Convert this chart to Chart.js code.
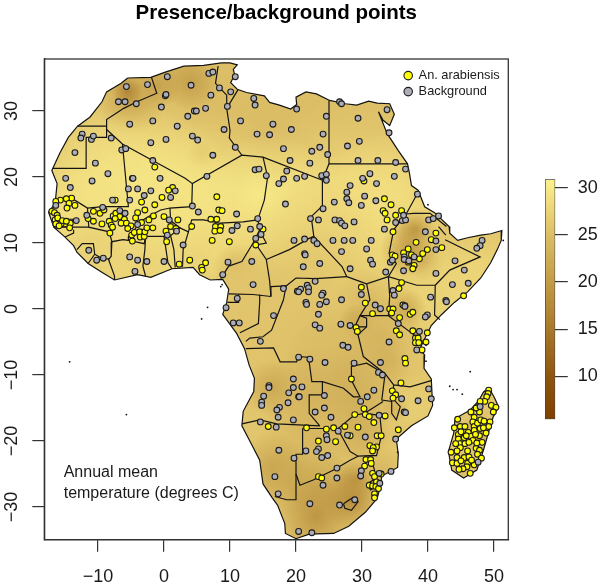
<!DOCTYPE html>
<html><head><meta charset="utf-8">
<script src="https://cdn.jsdelivr.net/npm/chart.js@4"></script>
<style>html,body{margin:0;padding:0;background:#fff}#m{position:absolute;left:0;top:0}#c{position:absolute;left:530px;top:170px}</style>
</head><body>
<canvas id="m" width="600" height="586"></canvas>
<canvas id="c" width="70" height="260"></canvas>
<script>
const xTicks=[-10,0,10,20,30,40,50];
const yTicks=[-30,-20,-10,0,10,20,30];
const barTicks=[10,15,20,25,30];
const rampTemps=[5.44,10,15,20,25,28,30.9];
const rampColors=['#7f4000','#8f5510','#a8792c','#c29c48','#dcbe67','#eed77a','#fbf18e'];
const presence=[[-1.4,21.5],[1.3,18.4],[0.7,18],[-0.3,16.9],[-7.4,16.5],[-3.4,16.2],[-1.4,15.8],[-2.9,15],[8,17],[8.3,15],[8.8,14.9],[-14,16.8],[-14.8,16.7],[-15.7,16.5],[-16.4,16.3],[-14.4,16],[-13.5,15.7],[-14.7,15.3],[-17,14.8],[-16.6,14.6],[-16.2,14.2],[-16.5,13.5],[-16,13.2],[-16.3,12.7],[-15,12.9],[-14.2,13],[-14.3,12.3],[-15.6,12.9],[-16.1,13.8],[-15.4,13.4],[-16.4,12.9],[-15.9,12.6],[-14.8,13.3],[-10.7,14.8],[-9.7,14.5],[-9.1,15],[-11.5,13.7],[-10.7,13.3],[-9.4,12.9],[-8.3,13.3],[-7.7,14.1],[-7.3,14.5],[-6.7,14],[-7.4,13.7],[-6,13.6],[-6.5,13],[-5.7,13],[-5,12.6],[-4,14.6],[-4.3,13.8],[-2.3,13.5],[-1.6,14.1],[0,14],[2.1,13.5],[-8,12.7],[-7.8,12.4],[-8.2,11.5],[-5.5,12.2],[-4.9,11.2],[-4.5,11.6],[-3.7,11.7],[-4.8,10.3],[-3.6,10.9],[-3,11],[-2.9,11.7],[-2.6,12.3],[-1.7,12.3],[-3.4,13.1],[0.3,11.8],[1,12.5],[1.8,12.2],[0.4,10.2],[4.2,12.5],[7.1,13.6],[8,13.6],[7.8,12.5],[8.6,12.5],[7.7,11.8],[8.5,11.9],[7.3,10.4],[9.9,10.2],[15,12.1],[13.9,9.7],[2.3,6.8],[3.9,7.4],[6.3,7],[5.7,6.3],[5.8,5.9],
[30.3,19.4],[33.4,16.7],[34.4,15.8],[33.2,14.9],[33.5,14.5],[36,14.9],[35.1,14.2],[33.8,13.5],[34.7,11.7],[41.2,11.5],[40.5,10.5],[38.2,10.1],[37,9.1],[39.9,9],[42.1,9.3],[39.2,8.4],[36.3,8.5],[37.5,8.2],[34.6,8.2],[35,8],[38.7,7.6],[37,7.1],[37.9,6.6],[37.7,6.1],[36,4],[35.6,3.1],[29.9,3.3],[45.4,2],[30.5,0.9],[31.6,-0.7],[34.2,0],[34.7,0],[34.5,-0.6],[36.2,0.6],[36.5,0.5],[35.7,-1.3],[37.3,-0.8],[37.7,-0.5],[29.1,-2.8],[29.3,-3.4],[35.2,-3.3],[35.7,-3.9],[37.7,-3.3],[39.9,-3.6],[38.1,-4.4],[38.5,-4.4],[38.1,-5.1],[38.6,-5.1],[39.7,-5],[39.1,-6.2],[36.5,-7.5],[36.6,-8.2],[28.4,-10.6],[35.9,-11.2],[34.6,-12.4],[35.1,-13],[34.7,-13.5],[30.3,-15.1],[28.9,-16],[30.5,-16],[31.1,-16.3],[33.5,-16.2],[31.8,-17.2],[21.6,-18],[27.4,-17.8],[25.7,-18],[24.6,-18.2],[29.4,-17.9],[35.5,-18.3],[32.3,-19.2],[32.9,-19.2],[28.2,-19.2],[23.4,-20],[26,-20.1],[31.2,-20.7],[32.2,-20.9],[31.7,-21],[31.6,-21.5],[30.6,-22.8],[31.3,-22.8],[30.4,-23.8],[31.4,-23.4],[31.6,-24.9],[31.9,-25.4],[32.9,-25],[23.4,-25.4],[23.9,-25.6],[31.1,-26.7],[31.6,-26.8],[32.2,-26.2],[32.1,-26.9],[32.5,-27.2],[31.9,-28],[31.9,-28.6],[15.8,-17.8],
[49.2,-12.3],[49.1,-12.8],[48.9,-13.3],[48.6,-14],[47.9,-14],[47.6,-14.8],[46.5,-15.6],[47,-16.4],[47.8,-15.6],[49.6,-14.6],[50.3,-14.9],[49.9,-15.6],[44.5,-16.7],[46.8,-17.1],[49.4,-17.1],[44,-18],[44.9,-17.8],[45.6,-17.8],[47,-17.8],[49.2,-17.8],[47.9,-18.1],[48.4,-18],[47,-18.4],[46.1,-18.7],[44.6,-19],[48.8,-18.8],[47.8,-19.2],[46.5,-19.3],[45.5,-19.5],[44.6,-19.7],[46.8,-19.9],[44.8,-20.4],[45.6,-20.4],[44.9,-21],[47.3,-21.1],[47.8,-21.4],[44.4,-21.5],[43.5,-21.7],[47.5,-22],[45.5,-22.5],[46.2,-22.4],[44.4,-22.5],[43.7,-23.3],[44.4,-23.4],[46,-23.4],[47,-23.6],[45.9,-23.9],[45.3,-24.2],[44.7,-24.3],[46.4,-24.9],[48.1,-22.6],[45,-18.6],[45.8,-19.2],[46.2,-20.2],[47.2,-19],[47.5,-17.3],[46,-21.5],[45,-23],[46.6,-22.9],[48.2,-20.2],[47.4,-20.3],[44.2,-20.4],[48,-16.8],[48.5,-17],[47.3,-15]];
const background=[[-5.7,33.7],[-2.5,34],[0.5,35.2],[6.8,35.7],[7.4,35.9],[10.8,35.2],[4.1,33.9],[0.2,32.3],[0.3,32.5],[7.1,32.4],[8.4,33.5],[10.1,32.9],[-6.9,31.4],[-5.9,31.4],[-4.2,31.1],[-0.4,30.6],[9.6,30.7],[6.3,30.4],[4.6,30],[4.9,30],[3.6,29.2],[-5.2,28],[-1.7,28.5],[2,27.7],[9.1,27.2],[11.6,28.5],[13.6,31.9],[13.8,30.9],[20.1,30.3],[16.5,28],[19.3,27.2],[14.1,26.5],[16,26.4],[18.1,24.3],[19.1,22.5],[10.8,24.5],[-12.4,26.5],[-12.6,25.9],[-11,25.7],[-10.7,26.2],[-8,25.9],[-2,25.2],[0.3,25.7],[4.3,26.2],[5.1,25.6],[7.4,23.3],[-13.5,23.7],[-6.4,24.1],[-5.8,24.3],[-1.7,22.5],[-10.4,22.1],[-8.5,20.5],[-14.9,19.8],[-10.9,19.4],[-14.2,18.4],[-4.8,19.8],[-4.7,19.8],[-0.6,19.8],[6.5,20.1],[13.8,21.1],[14.4,21.2],[15.5,20.2],[18.6,20.9],[18.1,19.7],[17.4,19],[20.1,19.8],[-5.4,18.2],[-4,18.2],[-2,17.9],[-3,17.2],[1.7,17.9],[1,16.9],[-7.8,16.5],[-5.2,16.5],[18.4,15.9],[4.3,15.6],[5.2,14.7],[11,14.4],[-6.7,14.9],[-5.9,14.5],[-11.7,14.2],[-9.3,15.4],[-16.4,15.7],[-13.3,13.4],[-4,12.8],[0.8,13.5],[14.2,13.7],[11.1,12.6],[10.3,11.9],[13.1,12.1],[14.5,12.5],[14.7,11.3],[13.9,10.7],[19.7,10.4],[0.5,11.2],[1.9,11.8],[2.9,9.7],[-11.4,8.9],[-10.2,7.4],[-9.2,7.7],[-5.2,7.9],[-4,7.4],[-2.6,7.2],[0,7.2],[-4.4,5.7],[9.7,7.1],[13.3,7.2],[8.9,5.2],[13.5,3.7],[18.1,3.1],[20.2,2.7],[11.1,1.6],[9.4,0.2],
[16.6,-1],[10.5,-2.1],[11.4,-2.1],[14.6,-4.9],[20.4,-7.3],[19.6,-10.6],[15.9,-11.6],[15.9,-11.9],[19.6,-11.9],[18.9,-12.7],[20.4,-13.3],[15.1,-13.2],[14.8,-14.1],[14.8,-14.6],[18.8,-14.2],[17.5,-14.9],[17.1,-15.3],[17.3,-16.4],[19.6,-16.8],[14.6,-17.1],[17,-17.9],[17.4,-21.4],[19.7,-22.6],[16.8,-25.4],[17.3,-28],[20.4,-33.7],
[24.6,29.2],[26.6,31.4],[26.9,31.1],[29.4,28.9],[33.8,30.2],[34.1,26.7],[27.8,24.7],[29.6,25.4],[22.4,23.9],[23.6,24.5],[24.8,23.4],[22.1,22.1],[29.4,22.5],[32.4,22.5],[35.1,22.2],[36.6,21.2],[24.1,26.5],[21.3,20.1],[23.9,20.2],[24.6,20.4],[24.6,19.5],[30.1,19.8],[31.2,20.5],[34.9,20.1],[32.2,19],[28.2,18.7],[27.7,17.7],[27.7,16.7],[28,16.1],[30.4,17.1],[38.4,17.4],[25.8,16.2],[29.9,15.7],[32.1,16.4],[24.1,15.2],[22.2,13.7],[23.4,13.5],[25.9,13.5],[26.6,13.4],[26.9,13],[27.4,12.6],[28.8,13.2],[35.1,13.1],[36.1,13.4],[36.6,13.5],[36.3,14.2],[40.1,13.5],[40.8,13.7],[41.6,14.1],[33.4,12.1],[39.6,11.7],[41.2,10.3],[48.2,10.4],[47.9,9.6],[47.4,9.2],[21.3,10.6],[22.7,10.4],[23.2,9.9],[25.6,10.4],[27.3,10.4],[28.6,10.4],[31.4,10.4],[30.7,9.1],[26.9,8.7],[21.3,8.4],[21.4,8.2],[23.6,6.9],[21.1,6.4],[31.3,7.4],[31.6,6.8],[28.2,6.1],[33.6,5.6],[36.3,5.8],[34.3,7.1],[34.6,7.4],[36.4,7.9],[36.4,7.5],[37.1,7.3],[37.9,7.9],[41.2,9],[44.1,7.3],[45.5,5.9],[41.2,5.4],[46.1,3.9],[43.7,3.7],[40.4,1.8],[42.7,1.3],[22.9,4.2],[21.7,3.6],[21.9,3.2],[20.7,3],[20.4,2.6],[21.9,2.6],[24.1,2.4],[23.9,2.1],[26.9,1.4],[21.5,1],[21.6,0.7],[23.6,0.7],[24.6,1.1],[29.9,2.2],[34.7,2.8],[34.9,2.1],[32,0.6],[36.5,0.4],[32.8,0.05],[42.8,1.1],[23.4,-0.8],[22.9,-2.4],[23.6,-2.9],[26.8,-2.3],[28.2,-2.5],[39.9,-0.9],[39.6,-1.2],[35.5,-2.2],[38.7,-3.4],[34.1,-5],[38.3,-6.2],[27.1,-5.5],[27.9,-5.8],[22.1,-7.6],[24.4,-8.1],[32.8,-8.1],[28.8,-8.2],[32.5,-9.6],[33.1,-10],[20.9,-11.8],[20.5,-13.3],[24.3,-13.1],[31.8,-12.3],[30.8,-13.3],[36,-13.6],[40.1,-12.1],[40.5,-13.6],[38.5,-13.9],[29.8,-14],[24.3,-15],[22.9,-15.6],[25.3,-16.4],[32.6,-16.1],[36.4,-15.6],[36.6,-15.7],[26.4,-18.5],[24.6,-19.2],[24.7,-19.8],[27.8,-19.1],[30.5,-19.4],[35.1,-19.7],[21.5,-21.5],[23.4,-21.2],[23.1,-21.6],[23.9,-22.5],[24.8,-22.2],[26.2,-24.1],[29.9,-24.5],[29.8,-25.3],[26.2,-25.6],[24.1,-26.7],[22.1,-29.5],[26.6,-29.7],[28.9,-28.9],[22.4,-33.9],[34.4,-24.6],[32.6,-24.9],[32.7,-26.4],[47.6,-23.2],[47.9,-14.8]];
const islands=[[-14.3,-8],[-5.7,-16],[5.7,-1.5],[6.6,0.25],[8.6,3.4],[8.8,3.7],[46.4,-9.5],[43.3,-11.7],[43.8,-12.2],[44.4,-12.2],[45.2,-12.9],[39.7,-7.9],[39.7,-5.5],[35.4,-21.7],[51.4,10.4],[40,15.8]];
const coastAfrica=[[-5.5,35],[-2,35.1],[0.2,35.9],[3,36.8],[6,36.9],[8.7,37.3],[10,37.3],[11.1,37],[10.5,36.3],[10.7,35.5],[10.1,34.3],[11.1,33.3],[12.5,32.8],[15.2,32.3],[16,31.3],[17.5,30.9],[19.2,30.3],[20.1,31],[20,32.1],[21.5,32.9],[23.1,32.6],[25.1,31.6],[27.5,31.1],[29.2,30.9],[31,31.5],[32.3,31.2],[34.2,31.1],[34.9,29.5],[34.2,27.8],[33.2,28.6],[32.5,29.9],[33.8,26.6],[35.5,24],[36.9,22],[37.2,20.5],[37.5,18.7],[38.5,18],[39.5,15.5],[41,14.6],[43.2,12.5],[43.3,11.5],[44.5,10.4],[46,10.8],[48,11.2],[49.5,11.4],[51.2,11.9],[51.1,10.4],[50.5,9],[49.5,7],[48,4.7],[46,2.6],[44,1],[42,-0.9],[40.5,-2.5],[39.5,-4.5],[38.8,-6],[39.5,-7],[39.4,-9],[40.5,-10.6],[40.7,-14.6],[40,-16.2],[37.5,-17.7],[35.2,-19.7],[35.5,-22],[35.4,-24],[33,-25.3],[32.8,-26.8],[32.3,-28.7],[30.5,-30.8],[28,-32.9],[25.7,-34],[22,-34.1],[20,-34.8],[18.4,-34],[18.3,-32.5],[17.2,-29.7],[16.4,-28.6],[15,-26.5],[14.5,-22.9],[13,-20],[11.8,-17.7],[12,-15.5],[13.6,-12.5],[13.7,-10.5],[12.9,-8.5],[12.2,-6],[11,-3.7],[8.9,-0.8],[9.5,1],[9.8,3],[8.9,4.5],[7,4.4],[5.4,5.2],[4.4,6.3],[1.2,6.1],[-2,4.8],[-4,5.2],[-7.5,4.4],[-9.3,5.5],[-11.5,6.9],[-13.2,8.6],[-13.7,9.6],[-15,10.9],[-16.7,12.4],[-17.5,14.7],[-16.5,16],[-16.2,19],[-17,21],[-15.8,23.6],[-14.5,26],[-13.1,27.7],[-11.2,29.1],[-9.4,31.4],[-8.7,32.9],[-6.5,34.2],[-5.5,35]];
const coastMadagascar=[[49.2,-11.9],[50,-13.3],[50.7,-14.8],[49.9,-16.3],[49.2,-18.6],[48.4,-21.4],[47.4,-24.4],[45.4,-25.6],[43.6,-24.4],[43.1,-21.6],[43.9,-18.8],[44.1,-16.6],[46.4,-15.3],[47.6,-14],[48.4,-12.6],[49.2,-11.9]];
const borders=[
[[-13.1,27.7],[-8.7,27.7]],
[[-1.9,35.1],[-1.1,32.7],[-4.1,31.4],[-6.1,30.4],[-8.7,28.7],[-8.7,26],[-11.8,26],[-11.8,21.3],[-16.9,21.3]],
[[-8.7,27.2],[-6.3,25],[3.2,19.8],[4.3,19],[11.8,23.3],[15,23],[24,19.5]],
[[-6.3,25],[-5.4,15.5],[-9.3,15.5],[-11.6,15.3],[-14,16.8],[-16.3,16.6]],
[[8.2,36.8],[7.8,34.2],[9.5,32.4],[9.5,30.4],[10,27.1],[9.9,25.9],[11.8,23.3]],
[[11.2,33.2],[9.5,30.4]],
[[4.3,19],[4.2,15.5],[0.9,15.3],[1,13.4],[2.4,12.3],[1,11.1],[0,11],[-2.8,11],[-3,9.9],[-5.4,10.4],[-5.4,11],[-4.5,12],[-3.5,13.3],[-2,14.2],[-0.5,15],[0.9,15.3]],
[[-11.6,15.3],[-11.4,12.4],[-8.3,11.7],[-7.9,10.2],[-6.2,10.5],[-5.4,10.4]],
[[-16.7,12.4],[-11.4,12.4]],
[[-16.7,13.6],[-13.8,13.6],[-13.8,13.3],[-16.7,13.1]],
[[-15,10.9],[-13.7,11.5],[-13.7,12]],
[[-13.2,9],[-12.4,9.9],[-10.7,9.9],[-10.5,8.3],[-9.3,7.6],[-8.3,7.6]],
[[-7.9,10.2],[-8,8],[-8.4,7.5],[-7.5,5],[-7.5,4.4]],
[[-11.5,6.9],[-10.5,8.3]],
[[-2.8,11],[-2.9,9],[-3.2,6.5],[-2.8,5]],
[[0,11],[0.3,9],[0.6,7],[1.2,6.1]],
[[1,11.1],[1.5,9],[1.7,6.3]],
[[3.7,11.7],[2.9,9],[2.8,6.4]],
[[2.4,12.3],[3.7,11.7],[4.2,13.5],[6,13.5],[8.5,13],[12,13.2],[14.2,13.5]],
[[15,23],[15.7,20],[15.2,16.5],[14.2,13.5],[14.8,11.3],[15.5,10],[14,9.7],[15.5,7.5],[16,4.3],[16.2,1.9]],
[[14.6,12.2],[13.5,10],[11.8,7.2],[9.8,6.5],[8.6,4.6]],
[[9.8,2.3],[13.5,2.2],[16.2,1.9]],
[[11.3,2.2],[11.3,1],[9.6,1]],
[[14.5,2.2],[14.5,1.1],[14.3,-2.2],[11.5,-3.6]],
[[16.2,1.9],[16.2,3.4],[18.5,3.5],[18.1,1.4],[16.3,-3.2],[15,-4.2],[13,-4.4],[12.4,-4.9]],
[[15.5,7.5],[19,9],[22,10.7],[22.7,11]],
[[24,19.5],[24,15.6],[22.3,14],[22.7,11],[27,6.4],[27.7,4.9]],
[[18.5,3.5],[20,4.7],[23,4.6],[27.7,4.9]],
[[25,31.6],[25,22],[36.9,22]],[[25,22],[24,19.5]],
[[38.4,17.5],[36.7,14.4],[34.8,12],[34.1,8.4],[35.2,6.9],[34,4.9],[38.3,3.6],[41.1,3.6]],
[[36.7,14.4],[37.8,14.5],[40.3,14.5],[42.8,12.5]],
[[41.6,12.5],[42.7,11.2]],
[[41.1,3.6],[43.3,5.9],[47.9,7.9],[42.6,10.5]],
[[41.1,3.6],[41,-0.9],[41.8,-1.6]],
[[27.7,4.9],[30.7,3.8],[34,4.9],[34.2,1.9],[34,-1],[39.2,-4.9]],
[[30.7,3.8],[31.2,1.4],[29.7,-1],[34,-1]],
[[29.7,-1],[30.7,-1.4],[30.7,-2.7],[29.4,-3.9],[28.9,-2.7],[29.7,-1]],[[28.9,-2.7],[30.7,-2.7]],
[[29.4,-3.9],[30.2,-7.2],[33.5,-9.8],[34.8,-11.5],[37.3,-11.8],[40.6,-10.8]],
[[34.8,-11.5],[34.6,-13.5],[35.8,-14.8],[35.2,-16.8],[34.5,-15.8],[34.5,-14],[33,-13.8],[33.5,-9.8]],
[[12.4,-6],[16.6,-5.9],[17.6,-8],[20.1,-8],[20.3,-7.2],[21.9,-7.3],[22.4,-11],[24,-11],[27.2,-12],[28.7,-13.3],[29.7,-13.3],[28.4,-10.8],[28.4,-8.7],[30.7,-8.2],[33.2,-9.7]],
[[24,-11],[24,-13],[22,-13],[22,-15.8],[23.6,-17.7]],
[[11.8,-17.4],[14.5,-16.8],[17.1,-17.4],[23.6,-17.7]],
[[21,-18.1],[26.4,-18.1],[28.8,-16.1],[30.4,-15.8],[32.7,-16.1],[33,-19],[32.2,-22.2],[31.2,-22.2],[29.4,-22.3],[28.2,-21.6],[26.4,-18.3]],
[[21,-18.1],[21,-22],[20,-22],[20,-28.9],[18.6,-28.9],[16.8,-28.4]],
[[20,-25],[20.6,-26.7],[22.6,-25.9],[25.7,-24.4],[28.2,-22.9],[29.4,-22.3]],
[[31.2,-22.2],[31.9,-24.4],[31.7,-25.9],[32.9,-26.2]],
[[30.8,-26.5],[31.7,-25.9],[32.2,-26.9],[31.3,-27.4],[30.8,-26.5]],
[[27.2,-29.5],[28.4,-28.7],[29.4,-29.2],[28.4,-30.5],[27.4,-30.2],[27.2,-29.5]],
[[30.4,-15.8],[33.2,-14]]
];
// temperature patches: lon, lat, radius (degrees), annual mean temperature
const tempPatches=[[2,33,7,23.5],[15,29,7,24.5],[24,28,7,24.5],[30,27,5,24.5],[-2,27,6,24.5],[-11,23,6,26.5],[-2,23,7,27.5],[9,23,4,26],[5.5,23.3,1.2,23],[4,34.5,2.5,20],[-1,33.8,2,20],[-5,31.8,3,21],[-5.5,33,1.3,16],[17.5,20.8,1.5,23],[-11,18,7,29],[-3,16,8,30.5],[5,16,7,30],[16,16,6,31],[21,14,6,30.5],[28,18,8,28],[33,16,6,29.5],[30,10,8,28.5],[-14,14,4,29],[-6,12,7,29],[3,11,6,29],[11,11,4,28.5],[-11,10,3,27],[-8,8,3,27.5],[-2,7,4,27.5],[5,8,3,27.5],[11,6.5,2,24],[13,4,3,25.5],[22,7,7,26],[12,0,4,26],[22,0,7,26],[18,-5,7,25.5],[38,12,1.8,18],[37,9,2.4,19],[39.5,7.2,1.7,19],[45,9,4,25.5],[48,7,4,27],[45,3,5,28.5],[40,1,4,27.5],[36.5,0,1.8,21],[31,1,3,24],[29,-2,1.5,20],[33,-4,3.5,23.5],[35,-8,2.2,21.5],[38,-8,3,26],[27,-9,5,22.5],[24,-5,4,25],[16.5,-12,2.5,21],[22,-13,4,23],[29,-14,3.5,22.5],[38,-15,3,27],[35,-15,1.2,23],[36,-21,3,26],[30,-19,2.5,22],[23,-20,5,23.5],[16.5,-24,3,21],[19,-26,3,21.5],[24,-27,3,21],[28.5,-29,2.5,16.5],[23,-31.5,3.5,18],[29,-26,1.8,18],[33,-24,1.8,24],[47,-19,1.4,20],[49.3,-15.5,1.4,26],[44.5,-20,1.6,27],[45.5,-24,1.5,25],[47.5,-14,1.3,26]];
function hexToRgb(h){return [parseInt(h.slice(1,3),16),parseInt(h.slice(3,5),16),parseInt(h.slice(5,7),16)];}
function tempRgb(t){for(let i=1;i<rampTemps.length;i++){if(t<=rampTemps[i]){const f=(t-rampTemps[i-1])/(rampTemps[i]-rampTemps[i-1]);const a=hexToRgb(rampColors[i-1]),b=hexToRgb(rampColors[i]);return a.map((v,k)=>Math.round(v+(b[k]-v)*f));}}return hexToRgb(rampColors[rampColors.length-1]);}
const toPts=a=>a.map(p=>({x:p[0],y:p[1]}));
const lineDs=(a,label)=>({type:'scatter',label,data:toPts(a),showLine:true,fill:false,pointRadius:0,borderColor:'#141414',borderWidth:1.2,order:3});
const rasterPlugin={id:'raster',beforeDatasetsDraw(ch){
 const {ctx,scales:{x,y},chartArea:a}=ch;
 ctx.save();ctx.beginPath();ctx.rect(a.left,a.top,a.width,a.height);ctx.clip();
 ctx.beginPath();
 [coastAfrica,coastMadagascar].forEach(c=>{c.forEach((p,i)=>{const X=x.getPixelForValue(p[0]),Y=y.getPixelForValue(p[1]);i?ctx.lineTo(X,Y):ctx.moveTo(X,Y);});ctx.closePath();});
 ctx.clip();
 const base=tempRgb(26);ctx.fillStyle=`rgb(${base})`;ctx.fillRect(a.left,a.top,a.width,a.height);
 const ppu=Math.abs(x.getPixelForValue(1)-x.getPixelForValue(0));
 tempPatches.forEach(([lo,la,r,t])=>{const X=x.getPixelForValue(lo),Y=y.getPixelForValue(la),R=r*ppu*1.8,c=tempRgb(t);
  const g=ctx.createRadialGradient(X,Y,0,X,Y,R);g.addColorStop(0,`rgba(${c},0.85)`);g.addColorStop(0.5,`rgba(${c},0.45)`);g.addColorStop(1,`rgba(${c},0)`);
  ctx.fillStyle=g;ctx.beginPath();ctx.arc(X,Y,R,0,7);ctx.fill();});
 ctx.restore();
},afterDraw(ch){
 const {ctx,chartArea:a}=ch;ctx.save();ctx.strokeStyle='#333';ctx.lineWidth=1.3;ctx.strokeRect(a.left,a.top,a.width,a.height);ctx.restore();
 const {x,y}=ch.scales;ctx.save();ctx.fillStyle='#1a1a1a';ctx.font='16px "Liberation Sans"';ctx.textAlign='left';ctx.textBaseline='middle';
 ctx.fillText('Annual mean',x.getPixelForValue(-15.2),y.getPixelForValue(-24.85));
 ctx.fillText('temperature (degrees C)',x.getPixelForValue(-15.2),y.getPixelForValue(-27.9));
 ctx.restore();
},afterLayout(ch){const l=ch.legend;if(!l)return;l.left=401;l.top=66;l.right=508;l.bottom=300;l.width=107;l.height=234;}};
new Chart(document.getElementById('m'),{type:'scatter',plugins:[rasterPlugin],data:{datasets:[
 {label:'An. arabiensis',data:toPts(presence),pointRadius:2.9,pointBackgroundColor:'#ffff00',backgroundColor:'#ffff00',pointBorderColor:'#1c1c1c',borderColor:'#1c1c1c',pointBorderWidth:1.1,borderWidth:1.1,pointStyle:'circle',order:1},
 {label:'Background',data:toPts(background),pointRadius:2.9,pointBackgroundColor:'#adadb8',backgroundColor:'#adadb8',pointBorderColor:'#1c1c1c',borderColor:'#1c1c1c',pointBorderWidth:1.1,borderWidth:1.1,pointStyle:'circle',order:0},
 {label:'Islands',data:toPts(islands),pointRadius:0.9,pointBackgroundColor:'#111',pointBorderWidth:0,order:3},
 lineDs(coastAfrica,'Coast'),lineDs(coastMadagascar,'Coast Madagascar'),
 ...borders.map((b,i)=>lineDs(b,'Border '+i))
]},options:{responsive:false,animation:false,events:[],
 layout:{padding:{top:0,left:0,right:91.7,bottom:0}},
 plugins:{tooltip:{enabled:false},
  title:{display:true,fullSize:false,text:'Presence/background points',color:'#000',font:{family:'"Liberation Sans"',size:20.5,weight:'bold',lineHeight:1.2},padding:{top:1,bottom:33.4}},
  legend:{display:true,position:'chartArea',align:'start',labels:{usePointStyle:true,pointStyle:'circle',boxWidth:8,boxHeight:6,padding:3.2,color:'#1a1a1a',font:{family:'"Liberation Sans"',size:12.8},filter:i=>i.text==='An. arabiensis'||i.text==='Background',sort:(a,b)=>a.text<b.text?-1:1}}},
 scales:{
  x:{type:'linear',min:-18.14,max:52.17,afterBuildTicks:s=>{s.ticks=xTicks.map(v=>({value:v}));},afterFit:s=>{s.height=46.3;},
   grid:{drawOnChartArea:false,drawTicks:true,tickLength:12,color:'#333',lineWidth:1.2},border:{color:'#333',width:1.3},
   ticks:{autoSkip:false,maxRotation:0,minRotation:0,padding:15,color:'#1a1a1a',font:{family:'"Liberation Sans"',size:18},callback:v=>String(v).replace('-','\u2212')}},
  y:{type:'linear',min:-34.95,max:37.88,afterBuildTicks:s=>{s.ticks=yTicks.map(v=>({value:v}));},afterFit:s=>{s.width=44.3;},
   grid:{drawOnChartArea:false,drawTicks:true,tickLength:12,color:'#333',lineWidth:1.2},border:{color:'#333',width:1.3},
   ticks:{autoSkip:false,minRotation:90,maxRotation:90,crossAlign:'center',padding:5,color:'#1a1a1a',font:{family:'"Liberation Sans"',size:18},callback:v=>String(v).replace('-','\u2212')}}
 }}});
new Chart(document.getElementById('c'),{type:'bar',data:{labels:['t'],datasets:[{data:[[rampTemps[0],rampTemps[rampTemps.length-1]]],barPercentage:1,categoryPercentage:1,borderWidth:1,borderColor:'#444',borderSkipped:false,
 backgroundColor:c=>{const a=c.chart.chartArea,s=c.chart.scales.y;if(!a)return '#ccc';const g=c.chart.ctx.createLinearGradient(0,s.getPixelForValue(rampTemps[0]),0,s.getPixelForValue(rampTemps[rampTemps.length-1]));rampTemps.forEach((t,i)=>g.addColorStop((t-rampTemps[0])/(rampTemps[rampTemps.length-1]-rampTemps[0]),rampColors[i]));return g;}}]},
 options:{responsive:false,animation:false,events:[],layout:{padding:{left:15,top:9.3,bottom:10.7,right:0}},plugins:{legend:{display:false},tooltip:{enabled:false}},
 scales:{x:{display:false},y:{position:'right',min:rampTemps[0],max:rampTemps[rampTemps.length-1],afterBuildTicks:s=>{s.ticks=barTicks.map(v=>({value:v}));},afterFit:s=>{s.width=44.7;s.paddingTop=0;s.paddingBottom=0;},
  grid:{drawOnChartArea:false,drawTicks:true,tickLength:12.5,color:'#333',lineWidth:1.2},border:{display:false},
  ticks:{autoSkip:false,padding:10,color:'#1a1a1a',font:{family:'"Liberation Sans"',size:18}}}}}});
</script>
</body></html>
